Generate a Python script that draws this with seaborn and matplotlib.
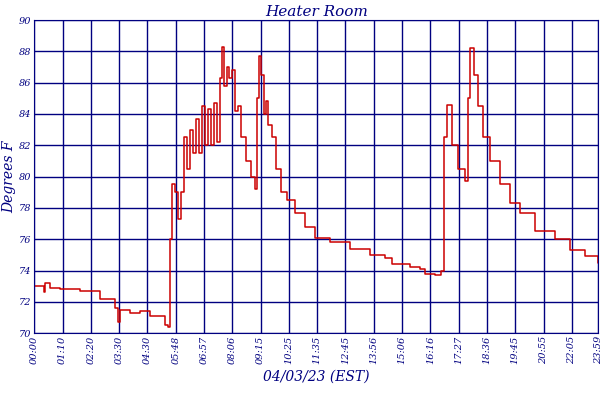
import numpy as np
import pandas as pd
import seaborn as sns
import matplotlib.pyplot as plt

# Readings: position along the day (fraction of 564 px day width) and temperature F
px = [34, 44, 45, 50, 60, 80, 100, 115, 118, 120, 130, 140, 150, 165, 168, 170, 172, 175, 178, 181,
      184, 187, 190, 193, 196, 199, 202, 205, 208, 211, 214, 217, 220, 222, 224, 227, 229, 232, 235, 238,
      241, 246, 251, 255, 257, 259, 261, 264, 266, 268, 272, 276, 281, 287, 295, 305, 315, 330, 350, 370,
      385, 392, 410, 420, 425, 435, 441, 444, 447, 452, 458, 465, 468, 470, 474, 478, 483, 490, 500, 510,
      520, 535, 555, 570, 585, 598]
temps = [73.0, 72.6, 73.2, 72.9, 72.8, 72.7, 72.2, 71.6, 70.7, 71.5, 71.3, 71.4, 71.1, 70.5, 70.4, 76.0, 79.5, 79.0, 77.3, 79.0,
         82.5, 80.5, 83.0, 81.5, 83.7, 81.5, 84.5, 82.0, 84.3, 82.0, 84.7, 82.2, 86.3, 88.3, 85.8, 87.0, 86.3, 86.8, 84.2, 84.5,
         82.5, 81.0, 80.0, 79.2, 85.0, 87.7, 86.5, 84.0, 84.8, 83.3, 82.5, 80.5, 79.0, 78.5, 77.7, 76.8, 76.1, 75.8, 75.4, 75.0,
         74.8, 74.4, 74.2, 74.1, 73.8, 73.7, 74.0, 82.5, 84.6, 82.0, 80.5, 79.7, 85.0, 88.2, 86.5, 84.5, 82.5, 81.0, 79.5, 78.3,
         77.7, 76.5, 76.0, 75.3, 74.9, 74.5]
tick_labels = ["00:00", "01:10", "02:20", "03:30", "04:30", "05:48", "06:57", "08:06", "09:15", "10:25",
               "11:35", "12:45", "13:56", "15:06", "16:16", "17:27", "18:36", "19:45", "20:55", "22:05",
               "23:15", "23:59"]

minutes = [(p - 34) * 1440 / 564 for p in px]
df = pd.DataFrame({"t": minutes, "temp": temps})

sns.set_style("white")
navy = "#000080"
fig, ax = plt.subplots(figsize=(6, 4), dpi=100)
fig.subplots_adjust(left=0.057, right=0.997, top=0.95, bottom=0.167)
sns.lineplot(data=df, x="t", y="temp", drawstyle="steps-post", color="#cc0000", lw=1.1,
             ax=ax, label="Heater Room")

step = 28.3 * 1440 / 564
ticks = [i * step for i in range(21)] + [1440]
ax.set_xticks(ticks)
ax.set_xticklabels(tick_labels, rotation=90, fontsize=7, color=navy, style="italic", family="DejaVu Serif")
ax.set_xlim(0, 1440)
ax.set_ylim(70, 90)
ax.set_yticks(range(70, 91, 2))
ax.set_yticklabels([str(v) for v in range(70, 91, 2)], fontsize=7, color=navy, style="italic", family="DejaVu Serif")
ax.grid(True, color=navy, lw=1)
for s in ax.spines.values():
    s.set_color(navy)
ax.tick_params(length=0, pad=2)
ax.set_xlabel("04/03/23 (EST)", color=navy, style="italic", family="DejaVu Serif", fontsize=10)
ax.set_ylabel("Degrees F", color=navy, style="italic", family="DejaVu Serif", fontsize=10, labelpad=2)
ax.set_title("Heater Room", color=navy, style="italic", family="DejaVu Serif", fontsize=11, pad=3)
leg = ax.legend(loc="upper center", bbox_to_anchor=(0.5, -0.2), frameon=False, fontsize=8,
                handlelength=1.5, prop={"family": "DejaVu Serif", "style": "italic", "size": 8})
for t in leg.get_texts():
    t.set_color(navy)
fig.savefig("out.png")
